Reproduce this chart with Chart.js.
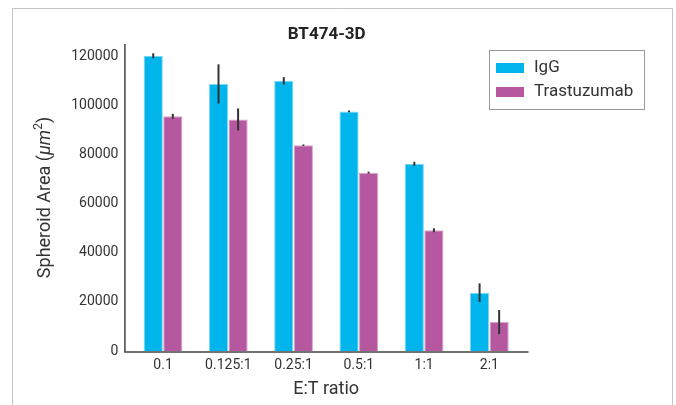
<!DOCTYPE html>
<html>
<head>
<meta charset="utf-8">
<script src="https://cdn.jsdelivr.net/npm/chart.js@4.4.1/dist/chart.umd.min.js"></script>
<style>
  html, body { margin: 0; padding: 0; background: #fff; }
  #wrap { width: 676px; height: 405px; position: relative; }
</style>
</head>
<body>
<div id="wrap"><canvas id="chart" width="676" height="405"></canvas></div>
<script>
// E:T ratios and spheroid areas (mean and error) for each treatment
const categories = ['0.1', '0.125:1', '0.25:1', '0.5:1', '1:1', '2:1'];
const iggMeans = [120500, 109000, 110300, 97800, 76400, 23800];
const iggErrors = [1000, 8000, 1500, 400, 800, 3800];
const trastMeans = [95800, 94500, 84000, 72800, 49300, 11800];
const trastErrors = [1000, 4500, 300, 400, 800, 4900];
const yTicks = [0, 20000, 40000, 60000, 80000, 100000, 120000];

const FONT = 'Roboto, "DejaVu Sans", sans-serif';
const IGG_COLOR = '#00b5eb';
const TRAST_COLOR = '#b5589f';
const AXIS_COLOR = '#444';
const TEXT_COLOR = '#333';

// frame, title, axis lines, y label, error bars and legend
const decorations = {
    id: 'decorations',
    beforeDraw(chart) {
        const ctx = chart.ctx;
        ctx.save();
        ctx.fillStyle = '#fff';
        ctx.fillRect(0, 0, chart.width, chart.height);
        ctx.strokeStyle = '#c4c4c4';
        ctx.lineWidth = 1;
        ctx.beginPath();
        ctx.moveTo(12.5, chart.height + 2);
        ctx.lineTo(12.5, 8.5);
        ctx.lineTo(672.5, 8.5);
        ctx.lineTo(672.5, chart.height + 2);
        ctx.stroke();
        ctx.restore();
    },
    afterDatasetsDraw(chart) {
        const ctx = chart.ctx;
        const area = chart.chartArea;
        const y = chart.scales.y;
        const axisLeft = area.left - 5.5;
        const axisRight = area.right + 6.5;

        // error bars
        ctx.save();
        ctx.strokeStyle = '#333';
        ctx.lineWidth = 2;
        const errs = [iggErrors, trastErrors];
        chart.data.datasets.forEach((ds, di) => {
            chart.getDatasetMeta(di).data.forEach((bar, i) => {
                const v = ds.data[i];
                const e = errs[di][i];
                ctx.beginPath();
                ctx.moveTo(bar.x, y.getPixelForValue(v + e));
                ctx.lineTo(bar.x, y.getPixelForValue(v - e));
                ctx.stroke();
            });
        });
        ctx.restore();

        // axis lines
        ctx.save();
        ctx.strokeStyle = AXIS_COLOR;
        ctx.lineWidth = 1.5;
        ctx.beginPath();
        ctx.moveTo(axisLeft, area.top);
        ctx.lineTo(axisLeft, area.bottom + 1);
        ctx.lineTo(axisRight, area.bottom + 1);
        ctx.stroke();
        ctx.restore();

        // title
        ctx.save();
        ctx.fillStyle = '#222';
        ctx.font = 'bold 17px ' + FONT;
        ctx.textAlign = 'center';
        ctx.textBaseline = 'middle';
        ctx.fillText('BT474-3D', (axisLeft + axisRight) / 2, 35);
        ctx.restore();

        // y axis label with italic unit and superscript
        ctx.save();
        ctx.translate(45, (area.top + area.bottom) / 2);
        ctx.rotate(-Math.PI / 2);
        ctx.fillStyle = TEXT_COLOR;
        ctx.textBaseline = 'middle';
        const parts = [
            { t: 'Spheroid Area (', f: '18px ' + FONT, dy: 0 },
            { t: 'μm', f: 'italic 18px ' + FONT, dy: 0 },
            { t: '2', f: '12px ' + FONT, dy: -6 },
            { t: ')', f: '18px ' + FONT, dy: 0 }
        ];
        let total = 0;
        parts.forEach(p => { ctx.font = p.f; p.w = ctx.measureText(p.t).width; total += p.w; });
        let x = -total / 2;
        ctx.textAlign = 'left';
        parts.forEach(p => { ctx.font = p.f; ctx.fillText(p.t, x, p.dy); x += p.w; });
        ctx.restore();

        // legend
        ctx.save();
        ctx.strokeStyle = '#999';
        ctx.lineWidth = 1;
        ctx.strokeRect(489.5, 50.5, 155, 59);
        ctx.font = '17px ' + FONT;
        ctx.textBaseline = 'middle';
        ctx.textAlign = 'left';
        chart.data.datasets.forEach((ds, i) => {
            const cy = 68 + i * 24;
            ctx.fillStyle = ds.backgroundColor;
            ctx.fillRect(496, cy - 5, 28, 10);
            ctx.fillStyle = TEXT_COLOR;
            ctx.fillText(ds.label, 534, cy);
        });
        ctx.restore();
    }
};

new Chart(document.getElementById('chart'), {
    type: 'bar',
    data: {
        labels: categories,
        datasets: [{
            label: 'IgG',
            data: iggMeans,
            backgroundColor: IGG_COLOR,
            borderColor: '#7fd8f4',
            borderWidth: 1,
            categoryPercentage: 0.6,
            barPercentage: 0.98
        }, {
            label: 'Trastuzumab',
            data: trastMeans,
            backgroundColor: TRAST_COLOR,
            borderColor: '#d9a6cc',
            borderWidth: 1,
            categoryPercentage: 0.6,
            barPercentage: 0.98
        }]
    },
    options: {
        responsive: false,
        animation: false,
        layout: { padding: { top: 44, right: 154, bottom: 0, left: 0 } },
        plugins: {
            legend: { display: false },
            title: { display: false },
            tooltip: { enabled: false }
        },
        scales: {
            x: {
                grid: { display: false, drawTicks: false },
                border: { display: false },
                ticks: { color: TEXT_COLOR, font: { family: FONT, size: 14 }, padding: 6 },
                title: {
                    display: true,
                    text: 'E:T ratio',
                    color: TEXT_COLOR,
                    font: { family: FONT, size: 18 },
                    padding: { top: 0, bottom: 5 }
                },
                afterFit: s => { s.height = 54; }
            },
            y: {
                min: 0,
                max: 125300,
                grid: { display: false, drawTicks: false },
                border: { display: false },
                ticks: {
                    color: TEXT_COLOR,
                    font: { family: FONT, size: 14 },
                    padding: 12,
                    callback: v => String(v)
                },
                afterBuildTicks: s => { s.ticks = yTicks.map(v => ({ value: v })); },
                afterFit: s => { s.width = 130.4; }
            }
        }
    },
    plugins: [decorations]
});
</script>
</body>
</html>
